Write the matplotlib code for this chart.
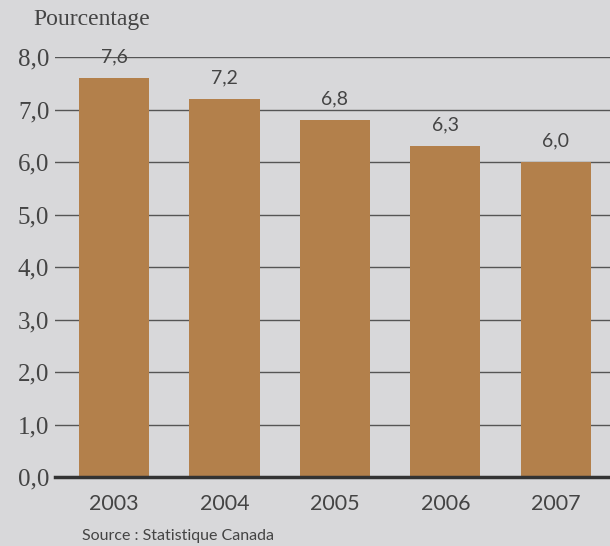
import matplotlib.pyplot as plt
import numpy as np

# data
years = ['2003', '2004', '2005', '2006', '2007']
values = [7.6, 7.2, 6.8, 6.3, 6.0]
value_labels = ['7,6', '7,2', '6,8', '6,3', '6,0']
yticks = [0, 1, 2, 3, 4, 5, 6, 7, 8]
ytick_labels = ['0,0', '1,0', '2,0', '3,0', '4,0', '5,0', '6,0', '7,0', '8,0']

bg = '#d8d8da'
bar_color = '#b3804b'

fig = plt.figure(figsize=(6.1, 5.46), dpi=100, facecolor=bg)
ax = fig.add_axes([0.090, 0.1264, 0.910, 0.769], facecolor=bg)

x = np.arange(len(years))
ax.bar(x, values, width=0.635, color=bar_color, zorder=2)

# value labels above bars
for xi, v, lab in zip(x, values, value_labels):
    ax.text(xi, v + 0.25, lab, ha='center', va='bottom', fontsize=14,
            family='Lato', color='#444444')

ax.set_xlim(-0.535, 4.49)
ax.set_ylim(0, 8)
ax.set_yticks(yticks)
ax.set_yticklabels(ytick_labels, family='Liberation Serif', fontsize=18, color='#444444')
ax.set_xticks(x)
ax.set_xticklabels(years, family='Lato', fontsize=15.5, color='#444444')

ax.grid(axis='y', color='#555555', linewidth=1.0, zorder=1)
ax.tick_params(axis='y', length=0, pad=4)
ax.tick_params(axis='x', length=0, pad=12)

for s in ['top', 'right', 'left']:
    ax.spines[s].set_visible(False)
ax.spines['bottom'].set_color('#333333')
ax.spines['bottom'].set_linewidth(2.5)
ax.spines['bottom'].set_zorder(3)

fig.text(0.054, 0.955, 'Pourcentage', family='Liberation Serif', fontsize=17,
         color='#444444', ha='left', va='baseline')
fig.text(0.134, 0.006, 'Source : Statistique Canada', family='Lato', fontsize=11.5,
         color='#444444', ha='left', va='bottom')

fig.savefig('out.png', dpi=100, facecolor=bg)
